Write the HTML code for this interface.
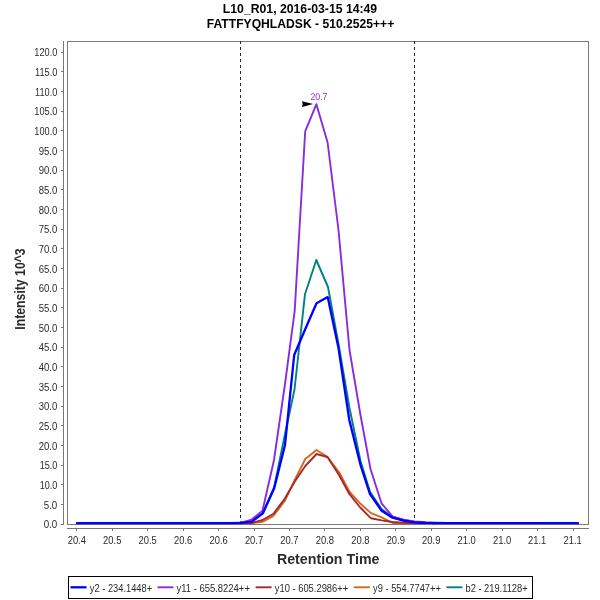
<!DOCTYPE html>
<html lang="en"><head><meta charset="utf-8"><title>L10_R01 chromatogram</title>
<style>
html,body{margin:0;padding:0;background:#fff;}
body{width:600px;height:600px;overflow:hidden;}
svg{display:block;}
text{font-family:"Liberation Sans",Arial,Helvetica,sans-serif;}
.tick{font-size:10.5px;fill:#2b2b2b;}
.title{font-size:12px;font-weight:bold;fill:#000;}
.axl{font-size:14px;font-weight:bold;fill:#2b2b2b;}
.leg{font-size:10.5px;fill:#2b2b2b;}
.ann{font-size:9.8px;fill:#8a2be2;text-rendering:geometricPrecision;}
</style></head><body>
<svg width="600" height="600" viewBox="0 0 600 600" role="img" aria-label="Chromatogram: Intensity versus Retention Time">
<rect x="0" y="0" width="600" height="600" fill="#fff"/>
<text class="title" transform="translate(300.00 13.00) scale(1.0200 1)" text-anchor="middle">L10_R01, 2016-03-15 14:49</text>
<text class="title" transform="translate(300.50 28.00) scale(1.0120 1)" text-anchor="middle">FATTFYQHLADSK - 510.2525+++</text>
<rect x="67.5" y="41.5" width="521" height="483" fill="none" stroke="#787878" stroke-width="1"/>
<g stroke="#787878" stroke-width="1" fill="none">
<line x1="63.5" y1="41" x2="63.5" y2="525"/>
<line x1="67" y1="528.5" x2="589" y2="528.5"/>
<line x1="61" y1="524.5" x2="64" y2="524.5"/>
<line x1="61" y1="504.5" x2="64" y2="504.5"/>
<line x1="61" y1="484.5" x2="64" y2="484.5"/>
<line x1="61" y1="465.5" x2="64" y2="465.5"/>
<line x1="61" y1="445.5" x2="64" y2="445.5"/>
<line x1="61" y1="425.5" x2="64" y2="425.5"/>
<line x1="61" y1="406.5" x2="64" y2="406.5"/>
<line x1="61" y1="386.5" x2="64" y2="386.5"/>
<line x1="61" y1="366.5" x2="64" y2="366.5"/>
<line x1="61" y1="347.5" x2="64" y2="347.5"/>
<line x1="61" y1="327.5" x2="64" y2="327.5"/>
<line x1="61" y1="307.5" x2="64" y2="307.5"/>
<line x1="61" y1="288.5" x2="64" y2="288.5"/>
<line x1="61" y1="268.5" x2="64" y2="268.5"/>
<line x1="61" y1="248.5" x2="64" y2="248.5"/>
<line x1="61" y1="229.5" x2="64" y2="229.5"/>
<line x1="61" y1="209.5" x2="64" y2="209.5"/>
<line x1="61" y1="189.5" x2="64" y2="189.5"/>
<line x1="61" y1="170.5" x2="64" y2="170.5"/>
<line x1="61" y1="150.5" x2="64" y2="150.5"/>
<line x1="61" y1="130.5" x2="64" y2="130.5"/>
<line x1="61" y1="111.5" x2="64" y2="111.5"/>
<line x1="61" y1="91.5" x2="64" y2="91.5"/>
<line x1="61" y1="71.5" x2="64" y2="71.5"/>
<line x1="61" y1="52.5" x2="64" y2="52.5"/>
<line x1="76.5" y1="528" x2="76.5" y2="531"/>
<line x1="112.5" y1="528" x2="112.5" y2="531"/>
<line x1="147.5" y1="528" x2="147.5" y2="531"/>
<line x1="183.5" y1="528" x2="183.5" y2="531"/>
<line x1="218.5" y1="528" x2="218.5" y2="531"/>
<line x1="254.5" y1="528" x2="254.5" y2="531"/>
<line x1="289.5" y1="528" x2="289.5" y2="531"/>
<line x1="324.5" y1="528" x2="324.5" y2="531"/>
<line x1="360.5" y1="528" x2="360.5" y2="531"/>
<line x1="395.5" y1="528" x2="395.5" y2="531"/>
<line x1="431.5" y1="528" x2="431.5" y2="531"/>
<line x1="466.5" y1="528" x2="466.5" y2="531"/>
<line x1="502.5" y1="528" x2="502.5" y2="531"/>
<line x1="537.5" y1="528" x2="537.5" y2="531"/>
<line x1="573.5" y1="528" x2="573.5" y2="531"/>
</g>
<g>
<text class="tick" transform="translate(57.30 528.30) scale(0.9300 1)" text-anchor="end">0.0</text>
<text class="tick" transform="translate(57.30 508.63) scale(0.9300 1)" text-anchor="end">5.0</text>
<text class="tick" transform="translate(57.30 488.97) scale(0.8650 1)" text-anchor="end">10.0</text>
<text class="tick" transform="translate(57.30 469.30) scale(0.8650 1)" text-anchor="end">15.0</text>
<text class="tick" transform="translate(57.30 449.63) scale(0.9100 1)" text-anchor="end">20.0</text>
<text class="tick" transform="translate(57.30 429.97) scale(0.9100 1)" text-anchor="end">25.0</text>
<text class="tick" transform="translate(57.30 410.30) scale(0.9100 1)" text-anchor="end">30.0</text>
<text class="tick" transform="translate(57.30 390.63) scale(0.9100 1)" text-anchor="end">35.0</text>
<text class="tick" transform="translate(57.30 370.97) scale(0.9100 1)" text-anchor="end">40.0</text>
<text class="tick" transform="translate(57.30 351.30) scale(0.9100 1)" text-anchor="end">45.0</text>
<text class="tick" transform="translate(57.30 331.63) scale(0.9100 1)" text-anchor="end">50.0</text>
<text class="tick" transform="translate(57.30 311.97) scale(0.9100 1)" text-anchor="end">55.0</text>
<text class="tick" transform="translate(57.30 292.30) scale(0.9100 1)" text-anchor="end">60.0</text>
<text class="tick" transform="translate(57.30 272.63) scale(0.9100 1)" text-anchor="end">65.0</text>
<text class="tick" transform="translate(57.30 252.97) scale(0.9100 1)" text-anchor="end">70.0</text>
<text class="tick" transform="translate(57.30 233.30) scale(0.9100 1)" text-anchor="end">75.0</text>
<text class="tick" transform="translate(57.30 213.63) scale(0.9100 1)" text-anchor="end">80.0</text>
<text class="tick" transform="translate(57.30 193.97) scale(0.9100 1)" text-anchor="end">85.0</text>
<text class="tick" transform="translate(57.30 174.30) scale(0.9100 1)" text-anchor="end">90.0</text>
<text class="tick" transform="translate(57.30 154.63) scale(0.9100 1)" text-anchor="end">95.0</text>
<text class="tick" transform="translate(57.30 134.97) scale(0.8750 1)" text-anchor="end">100.0</text>
<text class="tick" transform="translate(57.30 115.30) scale(0.8750 1)" text-anchor="end">105.0</text>
<text class="tick" transform="translate(57.30 95.63) scale(0.8750 1)" text-anchor="end">110.0</text>
<text class="tick" transform="translate(57.30 75.97) scale(0.8750 1)" text-anchor="end">115.0</text>
<text class="tick" transform="translate(57.30 56.30) scale(0.8750 1)" text-anchor="end">120.0</text>
</g>
<g>
<text class="tick" transform="translate(76.82 544.00) scale(0.8950 1)" text-anchor="middle">20.4</text>
<text class="tick" transform="translate(112.26 544.00) scale(0.8950 1)" text-anchor="middle">20.5</text>
<text class="tick" transform="translate(147.70 544.00) scale(0.8950 1)" text-anchor="middle">20.5</text>
<text class="tick" transform="translate(183.14 544.00) scale(0.8950 1)" text-anchor="middle">20.6</text>
<text class="tick" transform="translate(218.58 544.00) scale(0.8950 1)" text-anchor="middle">20.6</text>
<text class="tick" transform="translate(254.02 544.00) scale(0.8950 1)" text-anchor="middle">20.7</text>
<text class="tick" transform="translate(289.46 544.00) scale(0.8950 1)" text-anchor="middle">20.7</text>
<text class="tick" transform="translate(324.90 544.00) scale(0.8950 1)" text-anchor="middle">20.8</text>
<text class="tick" transform="translate(360.34 544.00) scale(0.8950 1)" text-anchor="middle">20.8</text>
<text class="tick" transform="translate(395.78 544.00) scale(0.8950 1)" text-anchor="middle">20.9</text>
<text class="tick" transform="translate(431.22 544.00) scale(0.8950 1)" text-anchor="middle">20.9</text>
<text class="tick" transform="translate(466.66 544.00) scale(0.8950 1)" text-anchor="middle">21.0</text>
<text class="tick" transform="translate(502.10 544.00) scale(0.8950 1)" text-anchor="middle">21.0</text>
<text class="tick" transform="translate(537.14 544.00) scale(0.8950 1)" text-anchor="middle">21.1</text>
<text class="tick" transform="translate(572.58 544.00) scale(0.8950 1)" text-anchor="middle">21.1</text>
</g>
<text class="axl" transform="translate(328.20 564.00) scale(1.0180 1)" text-anchor="middle">Retention Time</text>
<text class="axl" transform="translate(24.50 289.00) rotate(-90) scale(0.8750 1)" text-anchor="middle">Intensity 10^3</text>
<g stroke="#262626" stroke-width="1" stroke-dasharray="3 3" fill="none">
<line x1="240.5" y1="41" x2="240.5" y2="524"/>
<line x1="414.5" y1="41" x2="414.5" y2="524"/>
</g>
<defs><clipPath id="pc"><rect x="68" y="42" width="520" height="482.2"/></clipPath></defs>
<g fill="none" stroke-linejoin="round" stroke-linecap="butt" clip-path="url(#pc)">
<polyline stroke="#008080" stroke-width="1.9" points="76.30,523.25 229.00,523.25 240.40,523.00 251.70,521.70 262.90,513.00 274.20,487.00 285.00,434.00 294.50,389.50 305.00,294.20 316.30,260.00 328.00,287.00 338.50,344.00 349.50,408.00 360.50,461.00 370.00,491.70 381.50,509.00 392.50,517.00 403.50,520.00 414.50,522.00 425.50,522.70 436.00,523.00 578.70,523.25"/>
<polyline stroke="#d2691e" stroke-width="1.9" points="76.30,523.25 229.00,523.25 240.40,523.20 251.70,523.00 262.50,521.80 273.50,515.80 284.70,501.00 294.50,480.50 305.30,459.00 316.50,450.00 327.50,457.00 339.20,472.50 349.50,491.70 360.00,503.30 371.00,513.10 381.70,517.40 392.70,523.00 403.50,523.30 578.70,523.25"/>
<polyline stroke="#a52a2a" stroke-width="1.9" points="76.30,523.25 229.00,523.25 240.40,523.20 251.70,523.00 262.50,520.00 273.50,513.70 284.70,498.70 294.50,482.00 305.30,466.00 316.50,454.00 327.50,457.00 339.00,475.00 349.50,494.20 360.20,507.50 371.00,518.30 381.70,520.40 392.70,522.00 403.50,522.80 414.50,523.25 578.70,523.25"/>
<polyline stroke="#8a2be2" stroke-width="1.9" points="76.30,522.95 229.00,522.95 240.40,522.80 251.70,519.60 262.50,510.70 274.00,460.00 285.00,384.00 294.70,310.80 305.20,131.30 316.40,104.20 327.60,142.50 338.50,230.00 349.50,350.00 360.30,414.00 370.50,469.00 381.50,503.30 392.50,516.30 403.50,519.60 414.50,521.40 425.50,522.20 436.00,522.60 447.00,522.85 578.70,522.95"/>
<polyline stroke="#0000ff" stroke-width="2.3" points="76.30,523.25 229.00,523.25 240.40,523.00 251.70,521.70 262.90,513.30 274.20,488.30 285.00,445.00 294.20,355.00 305.30,329.00 316.50,303.30 327.70,297.10 338.50,348.00 349.30,420.00 360.50,465.00 370.00,494.20 381.70,510.80 392.50,517.70 403.50,520.70 414.50,522.40 425.50,523.00 436.00,523.25 578.70,523.25"/>
</g>
<path d="M313.2,104.1 L302,101.2 L302.7,104.1 L302,106.9 Z" fill="#000"/>
<text class="ann" transform="translate(310.50 100.00) scale(0.8900 1)">20.7</text>
<rect x="68.5" y="576.5" width="464" height="22" fill="#fff" stroke="#000" stroke-width="1"/>
<line x1="70.5" y1="587.3" x2="86.5" y2="587.3" stroke="#0000ff" stroke-width="2.3"/>
<text class="leg" transform="translate(89.80 591.50) scale(0.8870 1)">y2 - 234.1448+</text>
<line x1="157.5" y1="587.3" x2="173.5" y2="587.3" stroke="#8a2be2" stroke-width="1.9"/>
<text class="leg" transform="translate(176.50 591.50) scale(0.9014 1)">y11 - 655.8224++</text>
<line x1="255.6" y1="587.3" x2="271.6" y2="587.3" stroke="#a52a2a" stroke-width="1.9"/>
<text class="leg" transform="translate(274.80 591.50) scale(0.8928 1)">y10 - 605.2986++</text>
<line x1="353.8" y1="587.3" x2="369.8" y2="587.3" stroke="#d2691e" stroke-width="1.9"/>
<text class="leg" transform="translate(373.10 591.50) scale(0.8878 1)">y9 - 554.7747++</text>
<line x1="446.4" y1="587.3" x2="462.4" y2="587.3" stroke="#008080" stroke-width="1.9"/>
<text class="leg" transform="translate(465.50 591.50) scale(0.8866 1)">b2 - 219.1128+</text>
</svg>
</body></html>
